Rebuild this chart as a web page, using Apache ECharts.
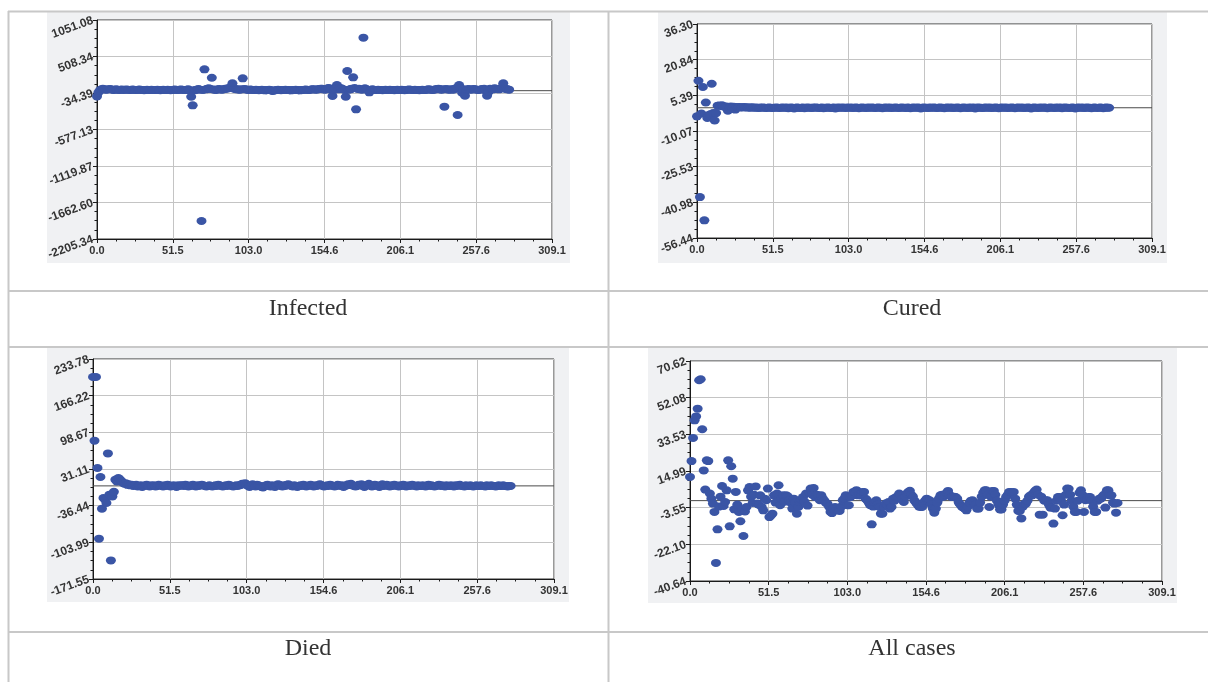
<!DOCTYPE html>
<html>
<head>
<meta charset="utf-8">
<title>Daily changes: Infected, Cured, Died, All cases</title>
<script src="https://cdn.jsdelivr.net/npm/echarts@6/dist/echarts.min.js"></script>
<style>
  html, body { margin: 0; padding: 0; background: #ffffff; }
  #chart { width: 1208px; height: 682px; }
</style>
</head>
<body>
<div id="chart"></div>
<script>
// ---- Data: one value per day, day index = position in the array ----
const captions = ['Infected', 'Cured', 'Died', 'All cases'];

const infectedValues = [
  -85, -25, 5, 22, 28, 20, 15, 18, 22, 25, 18, 12, 15, 20, 15, 10, 14, 18, 12, 15,
  18, 14, 10, 12, 16, 15, 12, 10, 14, 16, 12, 10, 8, 12, 15, 12, 10, 14, 12, 10,
  12, 15, 10, 8, 12, 14, 10, 12, 15, 10, 8, 12, 14, 16, 12, 10, 15, 18, 14, 12,
  10, 15, 20, 5, -90, -218, 5, 12, 18, 25, 15, -1938, 10, 318, 20, 30, 35, 25, 193, 18,
  15, 12, 20, 25, 18, 15, 22, 28, 30, 35, 40, 45, 110, 30, 25, 20, 18, 15, 20, 184,
  25, 20, 15, 12, 18, 15, 10, 12, 15, 10, 8, 12, 15, 10, 5, 8, 12, 15, 10, -5,
  0, 8, 12, 15, 10, 8, 12, 10, 15, 12, 10, 8, 5, 10, 12, 15, 10, 8, 5, 10,
  12, 15, 18, 12, 10, 15, 20, 22, 18, 15, 20, 25, 30, 28, 20, 15, 25, 40, 35, 20,
  -79, 10, 30, 84, 20, 40, 35, 25, 10, -90, 293, 15, 20, 30, 199, 40, -277, 25, 30, 20,
  15, 788, 35, 20, 15, -24, 10, 20, 15, 12, 10, 15, 12, 10, 8, 12, 15, 10, 12, 15,
  12, 10, 8, 12, 15, 10, 12, 15, 10, 8, 12, 15, 18, 15, 12, 10, 15, 12, 10, 8,
  12, 15, 10, 12, 15, 20, 18, 15, 12, 15, 20, 25, 30, 20, 15, 20, -238, 25, 20, 15,
  18, 20, 15, 25, 40, -362, 84, 35, -30, 20, -74, 10, 25, 20, 15, 20, 25, 20, 15, 10,
  15, 20, 25, 30, 5, -74, -20, 30, 25, 20, 35, 30, 25, 20, 35, 40, 110, 30, 25, 20,
  15
];

const curedValues = [
  -3.7, 11.7, -38.7, -2.5, 9.0, -48.8, 2.3, -4.4, -3.2, -2.8, 10.4, -2.3, -5.5, -2.3, 0.9, 1.0, 0.8, 1.1, 0.6, 0.4,
  0.5, -1.3, 0.3, 0.6, 0.2, 0.4, -0.8, 0.3, 0.2, 0.3, 0.1, 0.2, 0.3, 0.1, 0.2, 0.1, 0.0, 0.2, 0.1, 0.0,
  0.1, 0.0, -0.1, 0.1, 0.0, 0.1, 0.0, -0.1, 0.0, 0.1, 0.0, -0.1, 0.0, 0.0, 0.1, 0.0, -0.1, 0.0, 0.1, 0.0,
  0.0, 0.1, -0.2, 0.0, 0.1, 0.0, -0.3, 0.0, 0.1, 0.0, -0.1, 0.0, 0.1, -0.2, 0.0, 0.1, 0.0, 0.0, -0.1, 0.1,
  0.0, 0.1, 0.0, -0.1, 0.0, 0.1, -0.2, 0.0, 0.0, 0.1, 0.0, -0.1, 0.0, 0.1, -0.3, 0.0, 0.1, 0.0, 0.0, 0.1,
  0.0, -0.1, 0.1, 0.0, 0.0, 0.1, -0.1, 0.0, 0.1, 0.0, -0.2, 0.0, 0.1, 0.0, 0.0, -0.1, 0.1, 0.0, 0.0, 0.1,
  0.0, -0.1, 0.0, 0.1, 0.0, 0.0, -0.2, 0.0, 0.1, 0.0, 0.0, 0.1, -0.1, 0.0, 0.0, 0.1, 0.0, -0.1, 0.0, 0.1,
  0.0, 0.0, -0.1, 0.1, 0.0, -0.2, 0.0, 0.1, 0.0, 0.0, 0.1, 0.0, -0.3, 0.0, 0.1, 0.0, 0.0, -0.1, 0.1, 0.0,
  0.0, 0.1, 0.0, -0.1, 0.0, 0.1, 0.0, 0.0, -0.2, 0.0, 0.1, 0.0, 0.0, 0.1, -0.1, 0.0, 0.0, 0.1, 0.0, -0.2,
  0.0, 0.1, 0.0, 0.0, -0.1, 0.1, 0.0, 0.0, 0.1, -0.3, 0.0, 0.1, 0.0, 0.0, -0.1, 0.0, 0.1, 0.0, 0.0, 0.1,
  -0.1, 0.0, 0.0, 0.1, 0.0, -0.2, 0.0, 0.1, 0.0, 0.0, 0.1, -0.1, 0.0, 0.0, 0.1, 0.0, -0.2, 0.0, 0.1, 0.0,
  0.0, 0.1, -0.1, 0.0, 0.0, 0.1, 0.0, -0.3, 0.0, 0.1, 0.0, 0.0, -0.1, 0.1, 0.0, 0.0, 0.1, 0.0, -0.2, 0.0,
  0.1, 0.0, 0.0, -0.1, 0.1, 0.0, 0.0, 0.1, -0.2, 0.0, 0.1, 0.0, 0.0, -0.1, 0.0, 0.1, 0.0, -0.3, 0.0, 0.1,
  0.0, 0.0, 0.1, -0.1, 0.0, 0.1, 0.0, 0.0, -0.2, 0.0, 0.1, 0.0, -0.1, 0.0, 0.1, 0.0, -0.2, 0.0, 0.1, 0.0,
  0.0
];

const diedValues = [
  200.6, 83.3, 200.6, 33.0, -97.3, 16.4, -42.0, -22.3, -25.0, -31.5, 59.9, -16.2, -137.3, -19.4, -11.0, 11.4, 8.0, 14.5, 12.0, 9.0,
  6, 4, 5, 2, 3, 1, 2, 0, 1, 2, -1, 0, 1, -2, 0, 1, 2, 0, -1, 1,
  0, 1, -1, 0, 2, 1, 0, -1, 1, 0, 2, 1, -1, 0, 1, 0, -2, 1, 0, 1,
  1, 0, 2, 1, -1, 0, 1, 2, 0, -1, 1, 0, 1, 2, 1, 0, -1, 0, 1, 0,
  -1, 0, 1, 0, 2, 1, 0, -1, 0, 1, 0, 2, 1, 0, -1, 0, 1, 0, 1, 2,
  4, 3, 5, 2, 0, -2, 1, 3, 0, -1, 2, 1, 0, -2, -3, 0, 1, 2, 0, -1,
  1, 0, -2, 1, 3, 2, 0, -1, 1, 0, 2, 3, 1, 0, -1, 1, 0, -2, 0, 1,
  0, 2, 1, -1, 0, 1, 2, 0, -1, 1, 0, 1, 3, 2, 0, -1, 0, 1, 0, 2,
  1, 0, -1, 0, 2, 1, 0, 1, -2, 0, 1, 3, 2, 4, 1, 0, -1, 0, 2, 1,
  3, 0, -2, 1, 2, 4, 1, -1, 0, 2, 1, 0, -2, 1, 3, 0, 1, 2, 0, -1,
  1, 0, 2, 1, 0, -1, 1, 0, 2, 1, -1, 0, 1, 0, 2, 1, 0, -1, 1, 0,
  0, 1, 0, -1, 1, 2, 0, 1, 0, -1, 0, 1, 2, 0, 1, 0, -1, 1, 0, 0,
  1, 0, -1, 1, 0, 1, 2, 0, 0, -1, 1, 0, 0, 1, 0, -1, 0, 1, 0, 0,
  1, 0, 0, -1, 1, 0, 0, 1, 0, 0, -1, 0, 1, 0, 0, 1, 0, 0, -1, 0,
  0
];

const allCasesValues = [
  12.0, 20.0, 31.7, 40.6, 42.6, 46.5, 60.9, 61.4, 36.1, 15.3, 5.6, 20.4, 20.0, 3.6, 1.0, -1.5, -5.7, -31.5, -14.5, -3.0,
  2.0, 7.4, -2.7, -0.7, 5.2, 20.4, -13.0, 17.4, 11.1, -4.4, 4.4, -2.0, -5.7, -10.4, -4.5, -17.9, -5.5, -3.2, 5.2, 6.9,
  2.0, -1.2, 3.0, 7.2, -1.5, -2.0, 2.7, -3.2, -4.9, 1.0, 0.2, 6.1, -8.3, -7.5, -6.6, 2.7, -1.0, 3.6, 7.8, -2.3,
  1.0, 2.7, -0.5, 2.7, 2.2, 0.2, -1.0, -4.0, 1.0, -1.0, -6.6, -3.2, -0.7, 0.5, 1.8, -0.5, 3.6, -2.5, 4.0, 6.1,
  3.0, 6.4, 1.8, 3.0, 2.7, 0.2, 2.7, 1.0, 0.0, -1.2, -1.5, -3.0, -5.7, -6.3, -4.0, -3.2, -4.0, -4.9, -5.2, -3.0,
  0.2, 1.0, 2.7, -2.3, -2.3, 1.8, 2.5, 4.4, 4.4, 5.3, 2.7, 3.0, 2.7, 4.4, 4.4, 1.0, 0.2, -1.0, -2.3, -12.0,
  -3.0, -1.0, 0.2, -2.0, -3.2, -6.6, -6.6, -3.0, -1.5, -2.0, -0.7, -4.0, -3.2, 1.0, 0.0, 1.8, 2.0, 3.6, 2.7, 1.0,
  -0.7, 2.0, 3.6, 4.4, 5.0, 3.0, 2.0, 0.0, -1.0, -2.0, -3.0, -3.2, -3.2, -1.0, 0.0, 1.0, 0.0, 0.2, -2.0, -4.0,
  -6.1, -4.0, -1.0, 1.0, 2.7, 3.0, 2.0, 3.0, 4.0, 4.9, 3.0, 2.0, 1.8, 2.0, 1.8, 1.0, -1.0, -2.0, -3.0, -3.5,
  -4.0, -4.9, -3.0, -1.0, 0.0, 0.2, -1.0, -2.0, -4.0, -4.0, -1.0, 2.0, 4.0, 5.2, 5.2, 3.0, -3.2, 2.0, 4.9, 4.9,
  3.0, 0.0, -2.0, -4.5, -4.5, -2.0, 0.0, 1.8, 3.0, 4.4, 4.4, 4.0, 4.4, 1.0, -2.0, -5.2, -5.2, -9.0, -3.0, -1.5,
  -1.5, 0.0, 2.0, 2.7, 2.7, 4.0, 5.0, 5.6, 3.0, -7.1, 2.0, -7.1, 0.0, 0.2, 0.2, -2.0, -3.5, -3.5, -11.6, -4.0,
  0.0, 1.8, 1.8, 0.0, -7.4, -2.0, 3.0, 6.1, 6.0, 3.0, 0.0, -3.0, -5.7, -5.7, 0.0, 4.0, 5.2, 3.0, -5.7, 0.2,
  1.0, 1.8, 1.8, 0.0, -3.0, -5.7, -5.7, 0.0, 1.0, 1.0, 2.0, 3.0, -3.5, 5.2, 5.2, 2.7, 2.7, -1.0, -1.5, -6.1,
  -1.2
];

// ---- Tick labels ----
const xTicks = [0.0, 51.5, 103.0, 154.6, 206.1, 257.6, 309.1];
const infectedTicks = [-2205.34, -1662.60, -1119.87, -577.13, -34.39, 508.34, 1051.08];
const curedTicks = [-56.44, -40.98, -25.53, -10.07, 5.39, 20.84, 36.30];
const diedTicks = [-171.55, -103.99, -36.44, 31.11, 98.67, 166.22, 233.78];
const allCasesTicks = [-40.64, -22.10, -3.55, 14.99, 33.53, 52.08, 70.62];

const seriesValues = [infectedValues, curedValues, diedValues, allCasesValues];
const yTickSets = [infectedTicks, curedTicks, diedTicks, allCasesTicks];

// ---- Page layout (pixels) ----
const layout = [
  { panel: [47, 12, 523, 251], grid: [97, 20, 455, 219], caption: [308, 309] },
  { panel: [658, 12, 509, 251], grid: [697, 24, 455, 214], caption: [912, 309] },
  { panel: [47, 348, 522, 254], grid: [93, 359, 461, 220], caption: [308, 649] },
  { panel: [648, 348, 529, 255], grid: [690, 361, 472, 220], caption: [912, 649] }
];

const INK = '#1a1a1a';
const FONT = '"Liberation Sans", Arial, sans-serif';
const X_LABEL = { fontSize: 11, fontWeight: 'bold', fontFamily: FONT, color: '#333333' };
const Y_LABEL = { fontSize: 12, fontWeight: 'bold', fontFamily: FONT, color: '#333333', padding: [5, 0, 0, 0] };
const GRID_LINE = { color: '#c4c4c4', width: 1 };
const DOT = 'path://M0,4A5,4,0,1,1,10,4A5,4,0,1,1,0,4Z';

// evenly spaced minor ticks between neighbouring major ticks
function minorTicks(ticks, parts) {
  const out = [];
  for (let i = 0; i < ticks.length - 1; i++) {
    for (let k = 1; k < parts; k++) out.push(ticks[i] + (ticks[i + 1] - ticks[i]) * k / parts);
  }
  return out;
}

const grids = [], xAxes = [], yAxes = [], series = [], graphics = [];

// major axes first (indices 0..3), minor-tick axes after (indices 4..7)
layout.forEach((L, i) => {
  const yt = yTickSets[i];
  grids.push({
    left: L.grid[0], top: L.grid[1], width: L.grid[2], height: L.grid[3],
    show: true, backgroundColor: '#ffffff', borderColor: '#333333', borderWidth: 1
  });
  xAxes.push({
    type: 'value', gridIndex: i, min: xTicks[0], max: xTicks[xTicks.length - 1], position: 'bottom',
    axisLine: { onZero: false, lineStyle: { color: INK, width: 1 } },
    axisTick: { customValues: xTicks, length: 4, lineStyle: { color: INK } },
    axisLabel: Object.assign({ customValues: xTicks, margin: 6, formatter: v => v.toFixed(1) }, X_LABEL),
    splitLine: { show: true, lineStyle: GRID_LINE }
  });
  yAxes.push({
    type: 'value', gridIndex: i, min: yt[0], max: yt[yt.length - 1], position: 'left',
    axisLine: { show: true, onZero: false, lineStyle: { color: INK, width: 1 } },
    axisTick: { show: true, customValues: yt, length: 4, lineStyle: { color: INK } },
    axisLabel: Object.assign({ customValues: yt, margin: 4, rotate: 20, formatter: v => v.toFixed(2) }, Y_LABEL),
    splitLine: { show: true, lineStyle: GRID_LINE }
  });
});
layout.forEach((L, i) => {
  const yt = yTickSets[i];
  xAxes.push({
    type: 'value', gridIndex: i, min: xTicks[0], max: xTicks[xTicks.length - 1], position: 'bottom',
    axisLine: { show: false, onZero: false },
    axisTick: { show: true, customValues: minorTicks(xTicks, 4), length: 2.5, lineStyle: { color: INK } },
    axisLabel: { show: false }, splitLine: { show: false }
  });
  yAxes.push({
    type: 'value', gridIndex: i, min: yt[0], max: yt[yt.length - 1], position: 'left',
    axisLine: { show: false, onZero: false },
    axisTick: { show: true, customValues: minorTicks(yt, 4), length: 2.5, lineStyle: { color: INK } },
    axisLabel: { show: false }, splitLine: { show: false }
  });
});

layout.forEach((L, i) => {
  // zero reference line under the dots
  series.push({
    type: 'line', xAxisIndex: i, yAxisIndex: i, silent: true, z: 1,
    data: [[xTicks[0], 0], [xTicks[xTicks.length - 1], 0]],
    symbol: 'none', lineStyle: { color: '#4a4a4a', width: 1 }
  });
  series.push({
    type: 'scatter', name: captions[i], xAxisIndex: i, yAxisIndex: i, z: 2,
    data: seriesValues[i].map((v, day) => [day, v]),
    symbol: DOT, symbolSize: [10, 8],
    itemStyle: { color: '#3a55a5', opacity: 1 }
  });

  graphics.push({
    type: 'rect', z: -10, silent: true,
    shape: { x: L.panel[0], y: L.panel[1], width: L.panel[2], height: L.panel[3] },
    style: { fill: '#f0f1f3' }
  });
  graphics.push({
    type: 'text', x: L.caption[0], y: L.caption[1], silent: true,
    style: {
      text: captions[i], fill: '#333333',
      font: '24px "Liberation Serif", "Times New Roman", serif',
      align: 'center', verticalAlign: 'middle',
      textAlign: 'center', textVerticalAlign: 'middle'
    }
  });
});

// table rules
const RULE = { stroke: '#c8c8c8', lineWidth: 2 };
[[8, 11.5, 1208, 11.5], [8, 291, 1208, 291], [8, 347, 1208, 347], [8, 632, 1208, 632],
 [8.5, 11, 8.5, 682], [608.5, 11, 608.5, 682]].forEach(s => {
  graphics.push({ type: 'line', z: -5, silent: true, shape: { x1: s[0], y1: s[1], x2: s[2], y2: s[3] }, style: RULE });
});

const chart = echarts.init(document.getElementById('chart'));
chart.setOption({
  animation: false,
  backgroundColor: '#ffffff',
  grid: grids,
  xAxis: xAxes,
  yAxis: yAxes,
  series: series,
  graphic: { elements: graphics }
});
</script>
</body>
</html>
